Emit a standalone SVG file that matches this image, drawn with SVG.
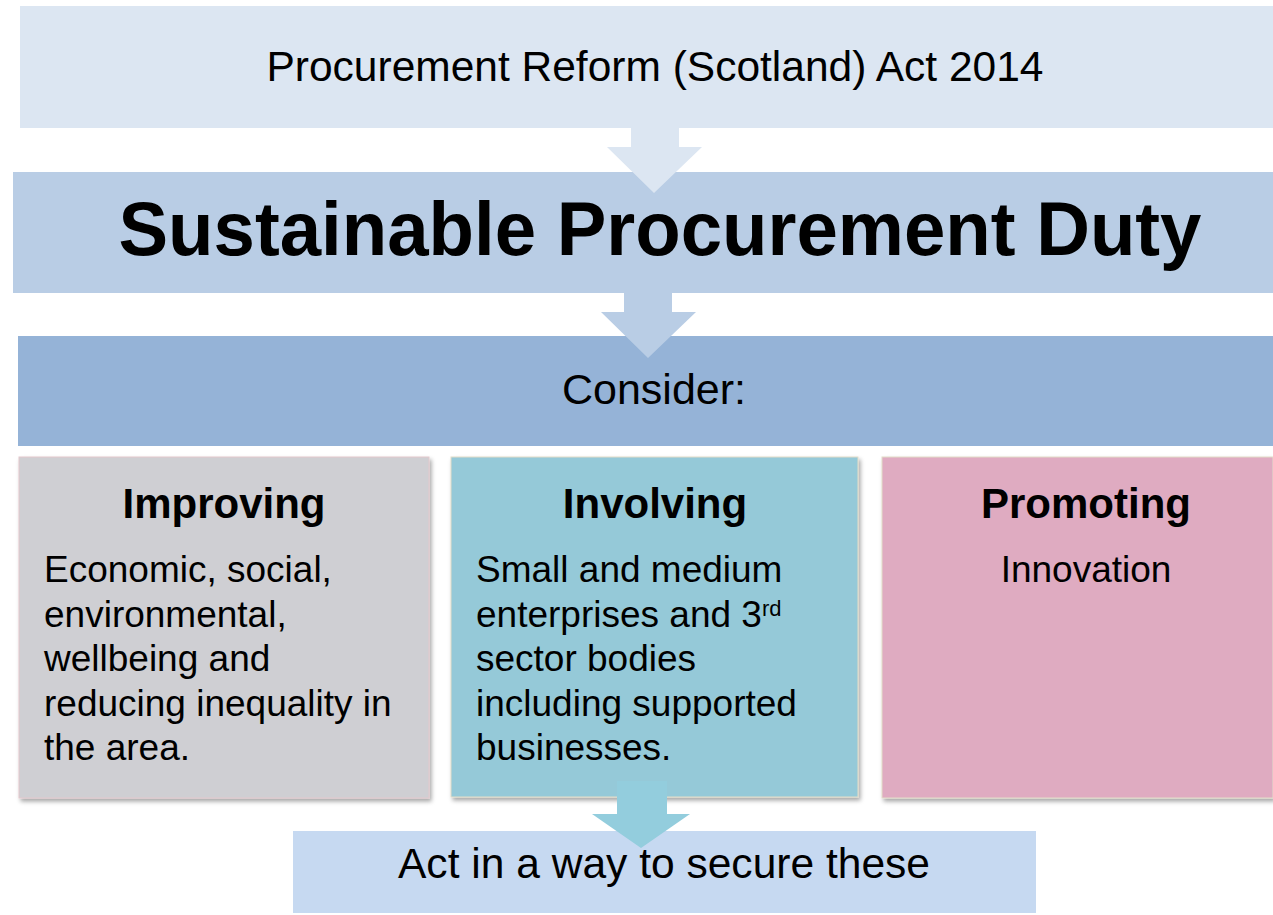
<svg xmlns="http://www.w3.org/2000/svg" width="1273" height="915" viewBox="0 0 1273 915">
<defs>
<filter id="sh" x="-5%" y="-5%" width="112%" height="115%">
<feDropShadow dx="2" dy="3" stdDeviation="2" flood-color="#000" flood-opacity="0.35"/>
</filter>
</defs>
<style>
text{font-family:"Liberation Sans",Arial,sans-serif;fill:#000}
.hd{font-size:42px;font-weight:bold}
.bd{font-size:37px}
.mid{text-anchor:middle}
</style>
<rect width="1273" height="915" fill="#ffffff"/>
<g id="act">
<rect x="20" y="6" width="1253" height="122" fill="#DCE6F2"/>
<text class="mid" x="655" y="81" font-size="42" textLength="777" lengthAdjust="spacingAndGlyphs">Procurement Reform (Scotland) Act 2014</text>
</g>
<g id="duty">
<rect x="13" y="172" width="1260" height="121" fill="#B9CDE5"/>
<text class="mid" x="660" y="255" font-size="76" font-weight="bold" textLength="1083" lengthAdjust="spacingAndGlyphs">Sustainable Procurement Duty</text>
</g>
<g id="consider">
<rect x="18" y="336" width="1255" height="110" fill="#95B3D7"/>
<text class="mid" x="654" y="404" font-size="43">Consider:</text>
</g>
<g id="improving">
<rect x="19" y="457" width="410" height="341" fill="#CFCFD3" stroke="#E3C8CC" stroke-width="1" filter="url(#sh)"/>
<text class="hd mid" x="224" y="518">Improving</text>
<text class="bd" x="44" y="582">Economic, social,</text>
<text class="bd" x="44" y="626.5">environmental,</text>
<text class="bd" x="44" y="671">wellbeing and</text>
<text class="bd" x="44" y="715.5">reducing inequality in</text>
<text class="bd" x="44" y="760">the area.</text>
</g>
<g id="involving">
<rect x="451" y="457" width="407" height="340" fill="#95C9D8" stroke="#E2DCC8" stroke-width="1" filter="url(#sh)"/>
<text class="hd mid" x="655" y="518">Involving</text>
<text class="bd" x="476" y="582">Small and medium</text>
<text class="bd" x="476" y="626.5">enterprises and 3<tspan font-size="22" dy="-11">rd</tspan></text>
<text class="bd" x="476" y="671">sector bodies</text>
<text class="bd" x="476" y="715.5">including supported</text>
<text class="bd" x="476" y="760">businesses.</text>
</g>
<g id="promoting">
<rect x="882" y="457" width="391" height="341" fill="#DFABC1" stroke="#E2DCC8" stroke-width="1" filter="url(#sh)"/>
<text class="hd mid" x="1086" y="518">Promoting</text>
<text class="bd mid" x="1086" y="582">Innovation</text>
</g>
<g id="secure">
<rect x="293" y="831" width="743" height="82" fill="#C6D9F1"/>
<text class="mid" x="664" y="878" font-size="42.5" textLength="532" lengthAdjust="spacingAndGlyphs">Act in a way to secure these</text>
</g>
<g id="connectors">
<polygon points="631,127 679,127 679,147 702,147 654,193 607,147 631,147" fill="#DCE6F2"/>
<polygon points="624,293 672,293 672,312 696,312 648,358 601,312 624,312" fill="#B9CDE5"/>
<polygon points="617,781 667,781 667,814 690,814 641,848 592,814 617,814" fill="#93CDDD"/>
</g>
</svg>
